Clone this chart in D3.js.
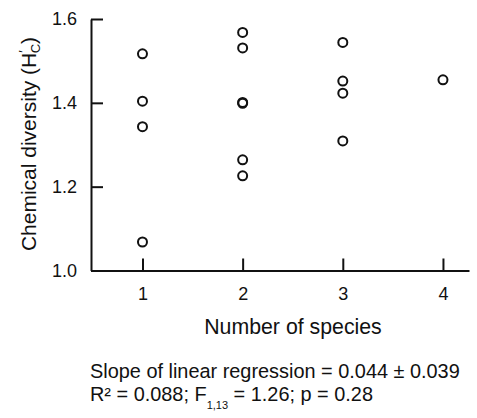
<!DOCTYPE html>
<html>
<head>
<meta charset="utf-8">
<script src="https://cdn.jsdelivr.net/npm/d3@7"></script>
<style>
  body { margin: 0; background: #fff; }
  svg text { font-family: "Liberation Sans", Arial, Helvetica, sans-serif; fill: #111; }
</style>
</head>
<body>
<div id="chart"></div>
<script>
// number of species in each mixture
var species = [1, 1, 1, 1, 2, 2, 2, 2, 2, 2, 3, 3, 3, 3, 4];
// chemical diversity H'c
var diversity = [1.517, 1.404, 1.343, 1.068, 1.568, 1.531, 1.401, 1.399, 1.264, 1.226, 1.544, 1.452, 1.423, 1.309, 1.455];
var xTicks = [1, 2, 3, 4];
var yTicks = [1.0, 1.2, 1.4, 1.6];

var W = 477, H = 418;

var svg = d3.select("#chart").append("svg")
    .attr("width", W)
    .attr("height", H);

// scales
var x = d3.scaleLinear().domain([0.486, 4.26]).range([91, 469]);
var y = d3.scaleLinear().domain([1.0, 1.6]).range([270.5, 19]);

// x axis, ticks pointing inward
var xAxis = svg.append("g")
    .attr("transform", "translate(0," + y(1.0) + ")")
    .call(d3.axisBottom(x).tickValues(xTicks).tickFormat(d3.format("d"))
        .tickSizeInner(-12).tickSizeOuter(0).tickPadding(17));

// y axis
var yAxis = svg.append("g")
    .attr("transform", "translate(" + x.range()[0] + ",0)")
    .call(d3.axisLeft(y).tickValues(yTicks).tickFormat(d3.format(".1f"))
        .tickSizeInner(-12).tickSizeOuter(0).tickPadding(14));

[xAxis, yAxis].forEach(function(a) {
    a.select(".domain").attr("stroke", "#111").attr("stroke-width", 2);
    a.selectAll(".tick line").attr("stroke", "#111").attr("stroke-width", 2);
    a.selectAll(".tick text").style("font-size", "18px").attr("fill", "#111");
});

// points
svg.append("g").selectAll("circle")
    .data(species.map(function(s, i) { return { s: s, v: diversity[i] }; }))
    .enter().append("circle")
    .attr("cx", function(d) { return x(d.s); })
    .attr("cy", function(d) { return y(d.v); })
    .attr("r", 4.5)
    .attr("fill", "none")
    .attr("stroke", "#111")
    .attr("stroke-width", 2);

// x title
svg.append("text")
    .attr("x", 293).attr("y", 334)
    .attr("text-anchor", "middle")
    .style("font-size", "21.3px")
    .text("Number of species");

// y title with H'c
var yt = svg.append("text")
    .attr("transform", "translate(36,144) rotate(-90)")
    .attr("text-anchor", "middle")
    .style("font-size", "21px");
yt.append("tspan").text("Chemical diversity (H");
yt.append("tspan").attr("dy", -8).style("font-size", "13px").text("′");
yt.append("tspan").attr("dx", -3).attr("dy", 12).style("font-size", "13px").text("C");
yt.append("tspan").attr("dy", -4).text(")");

// regression stats
svg.append("text")
    .attr("x", 90).attr("y", 378)
    .style("font-size", "19.9px")
    .text("Slope of linear regression = 0.044 ± 0.039");

var st = svg.append("text")
    .attr("x", 90).attr("y", 401)
    .style("font-size", "19.9px");
st.append("tspan").text("R² = 0.088; F");
st.append("tspan").attr("dy", 8).style("font-size", "11px").text("1,13");
st.append("tspan").attr("dy", -8).text(" = 1.26; p = 0.28");
</script>
</body>
</html>
